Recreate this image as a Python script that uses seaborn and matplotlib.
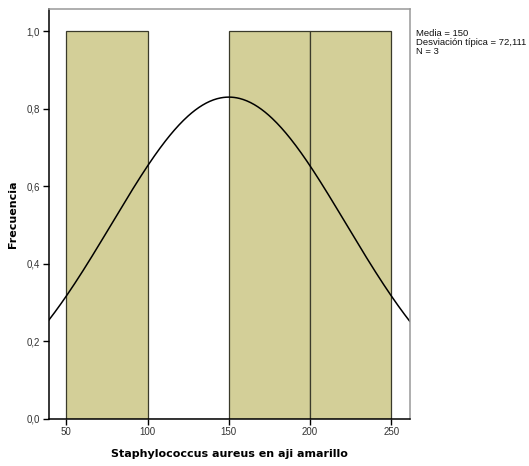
import numpy as np
import pandas as pd
import matplotlib
matplotlib.use("Agg")
import matplotlib.pyplot as plt
import seaborn as sns

sns.set_theme(style="white")
plt.rcParams['font.family'] = ['Liberation Sans', 'DejaVu Sans']

# Data
bin_edges = [50, 100, 150, 200, 250]
bin_centers = [75, 125, 175, 225]
counts = [1, 0, 1, 1]
media = 150
desv = 72.111
n_obs = 3
x_ticks = [50, 100, 150, 200, 250]
y_ticks = [0.0, 0.2, 0.4, 0.6, 0.8, 1.0]
x_label = "Staphylococcus aureus en aji amarillo"
y_label = "Frecuencia"

df = pd.DataFrame({"x": bin_centers, "w": counts})

fig = plt.figure(figsize=(5.29, 4.66), dpi=100)
ax = fig.add_axes([48.5/529, 1 - 419/466, (410-48.5)/529, (419-9)/466])

sns.histplot(data=df, x="x", weights="w", bins=bin_edges, ax=ax,
             color="#d3cf98", edgecolor="#3a3a2a", linewidth=0.9, alpha=1.0)

xlo, xhi = 39, 261.5
xs = np.linspace(xlo, xhi, 400)
width = bin_edges[1] - bin_edges[0]
ys = n_obs * width / (desv * np.sqrt(2 * np.pi)) * np.exp(-0.5 * ((xs - media) / desv) ** 2)
sns.lineplot(x=xs, y=ys, ax=ax, color="black", linewidth=1.1)

ax.set_xlim(xlo, xhi)
ax.set_ylim(0, 1.057)
ax.set_xticks(x_ticks)
ax.set_xticklabels([str(t) for t in x_ticks])
ax.set_yticks(y_ticks)
ax.set_yticklabels([f"{t:.1f}".replace(".", ",") for t in y_ticks])

ax.tick_params(axis="both", which="both", direction="out", length=4, width=1,
               color="black", labelsize=7, labelcolor="#333333", pad=2,
               bottom=True, left=True)
for side in ["left", "bottom"]:
    ax.spines[side].set_color("black")
    ax.spines[side].set_linewidth(1.1)
for side in ["top", "right"]:
    ax.spines[side].set_color("#999999")
    ax.spines[side].set_linewidth(1.1)

ax.set_xlabel(x_label, fontsize=8, fontweight="bold", family="DejaVu Sans", color="black")
ax.set_ylabel(y_label, fontsize=8, fontweight="bold", family="DejaVu Sans", color="black")
ax.xaxis.set_label_coords(0.5, -(454 - 419) / 410, transform=ax.transAxes)
ax.yaxis.set_label_coords((13 - 48.5) / 361.5, 0.5, transform=ax.transAxes)
ax.xaxis.label.set_verticalalignment("center")
ax.yaxis.label.set_verticalalignment("center")

fig.text(416/529, 1 - 29/466,
         f"Media = {media}\nDesviación típica = {str(desv).replace('.', ',')}\nN = {n_obs}",
         fontsize=6.8, va="top", ha="left", color="#111111", linespacing=1.0)

fig.savefig("out.png", dpi=100)
